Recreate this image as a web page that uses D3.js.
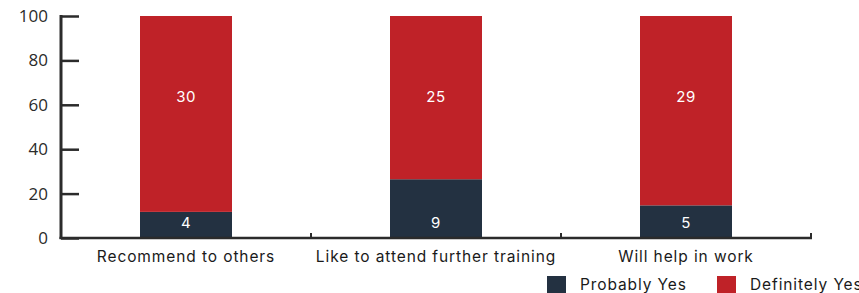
<!DOCTYPE html>
<html>
<head>
<meta charset="utf-8">
<script src="https://cdn.jsdelivr.net/npm/d3@7"></script>
<style>
  body { margin: 0; background: #fff; }
  svg { display: block; }
</style>
</head>
<body>
<div id="chart"></div>
<script>
var categories = ['Recommend to others', 'Like to attend further training', 'Will help in work'];
var probablyYes = [4, 9, 5];
var definitelyYes = [30, 25, 29];
var yTicks = [0, 20, 40, 60, 80, 100];
var seriesNames = ['Probably Yes', 'Definitely Yes'];
var colors = ['#233141', '#bf2228'];

var sWidth = 859;
var sHeight = 293;
var marg = { top: 16, bottom: 55, left: 61, right: 48 };
var width = sWidth - marg.left - marg.right;
var height = sHeight - marg.top - marg.bottom;

var svg = d3.select('#chart').append('svg')
    .attr('width', sWidth)
    .attr('height', sHeight);

var g = svg.append('g')
    .attr('transform', `translate(${marg.left}, ${marg.top})`);

var x = d3.scaleBand().domain(categories).range([0, width]).paddingInner(0.632).paddingOuter(0.316);
var xOuter = d3.scaleBand().domain(categories).range([0, width]);
var y = d3.scaleLinear().domain([0, 100]).range([height, 0]);

var rows = categories.map(function(c, i) {
    var tot = probablyYes[i] + definitelyYes[i];
    return { cat: c, p: probablyYes[i], d: definitelyYes[i], pp: probablyYes[i] / tot * 100 };
});

// bars
g.selectAll('.bar-p').data(rows).enter().append('rect')
    .attr('x', d => x(d.cat))
    .attr('width', x.bandwidth())
    .attr('y', d => y(d.pp))
    .attr('height', d => y(0) - y(d.pp))
    .attr('fill', colors[0]);

g.selectAll('.bar-d').data(rows).enter().append('rect')
    .attr('x', d => x(d.cat))
    .attr('width', x.bandwidth())
    .attr('y', y(100))
    .attr('height', d => y(d.pp) - y(100))
    .attr('fill', colors[1]);

// labels
g.selectAll('.lab-p').data(rows).enter().append('text')
    .attr('x', d => x(d.cat) + x.bandwidth() / 2)
    .attr('y', y(7))
    .attr('dy', '0.35em')
    .attr('text-anchor', 'middle')
    .attr('fill', '#fff')
    .style('font-family', 'Inter, sans-serif')
    .style('font-size', '15px')
    .style('letter-spacing', '0.5px')
    .text(d => d.p);

g.selectAll('.lab-d').data(rows).enter().append('text')
    .attr('x', d => x(d.cat) + x.bandwidth() / 2)
    .attr('y', y(63.5))
    .attr('dy', '0.35em')
    .attr('text-anchor', 'middle')
    .attr('fill', '#fff')
    .style('font-family', 'Inter, sans-serif')
    .style('font-size', '15px')
    .style('letter-spacing', '0.5px')
    .text(d => d.d);

// y axis
var yAxis = g.append('g')
    .call(d3.axisRight(y).tickValues(yTicks).tickSize(18).tickFormat(d => d));
yAxis.select('.domain').remove();
yAxis.selectAll('.tick line').attr('stroke', '#2b2b2b').attr('stroke-width', 2.5);
yAxis.selectAll('.tick text')
    .attr('x', -13)
    .attr('text-anchor', 'end')
    .attr('fill', '#2b2b2b')
    .style('font-family', '"Open Sans", sans-serif')
    .style('font-size', '17px');
g.append('line')
    .attr('x1', 0).attr('x2', 0)
    .attr('y1', y(100) - 1).attr('y2', y(0) + 1)
    .attr('stroke', '#2b2b2b').attr('stroke-width', 3);

// x axis
g.append('line')
    .attr('x1', -1.5).attr('x2', width + 1)
    .attr('y1', y(0)).attr('y2', y(0))
    .attr('stroke', '#2b2b2b').attr('stroke-width', 2.5);
g.selectAll('.xtick').data(categories).enter().append('line')
    .attr('x1', d => xOuter(d) + xOuter.bandwidth())
    .attr('x2', d => xOuter(d) + xOuter.bandwidth())
    .attr('y1', y(0) - 5).attr('y2', y(0))
    .attr('stroke', '#2b2b2b').attr('stroke-width', 2);

g.selectAll('.xlab').data(categories).enter().append('text')
    .attr('x', d => x(d) + x.bandwidth() / 2)
    .attr('y', y(0) + 24)
    .attr('text-anchor', 'middle')
    .attr('fill', '#1a1a1a')
    .style('font-family', 'Inter, sans-serif')
    .style('font-size', '15.5px')
    .style('letter-spacing', '0.9px')
    .text(d => d);

// legend
var legend = svg.append('g').attr('transform', 'translate(547, 276)');
var legX = [0, 170];
seriesNames.forEach(function(n, i) {
    var lg = legend.append('g').attr('transform', `translate(${legX[i]}, 0)`);
    lg.append('rect').attr('width', 19).attr('height', 18).attr('fill', colors[i]);
    lg.append('text')
        .attr('x', 33).attr('y', 9).attr('dy', '0.35em')
        .attr('fill', '#1a1a1a')
        .style('font-family', 'Inter, sans-serif')
        .style('font-size', '15.5px')
        .style('letter-spacing', '0.9px')
        .text(n);
});
</script>
</body>
</html>
